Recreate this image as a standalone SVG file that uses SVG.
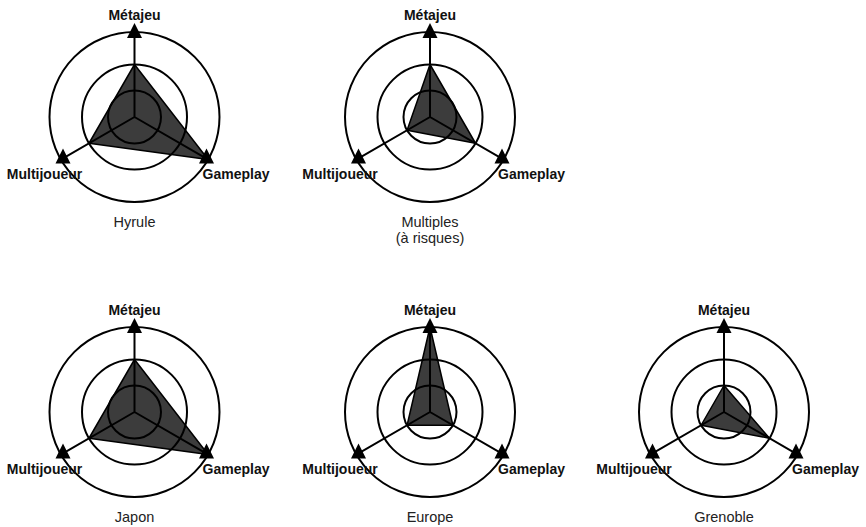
<svg xmlns="http://www.w3.org/2000/svg" xmlns:xlink="http://www.w3.org/1999/xlink" width="866" height="527" viewBox="0 0 866 527">
<style>
.ring{fill:none;stroke:#000;stroke-width:2}
.axis{stroke:#000;stroke-width:2;fill:none}
.head{fill:#000}
.poly{fill:#3c3c3c;stroke:#000;stroke-width:1.5;stroke-linejoin:round}
.ax{font-family:"Liberation Sans",Arial,sans-serif;font-size:14px;font-weight:bold;fill:#111;text-anchor:middle}
.name{font-family:"Liberation Sans",Arial,sans-serif;font-size:14.5px;fill:#222;text-anchor:middle}
</style>
<defs>
<g id="rings">
<circle class="ring" r="26.5"/>
<circle class="ring" r="52.5"/>
<circle class="ring" r="85"/>
</g>
<g id="axes">
<path class="axis" d="M0 0V-84M0 0L-71.5 41.3M0 0L72 41.6"/>
<path class="head" d="M0 -94L7.5 -79H-7.5Z"/>
<path class="head" d="M-71.5 31.5L-64 46.5H-79Z"/>
<path class="head" d="M72 31.5L79.5 46.5H64.5Z"/>
</g>
<g id="labels">
<text class="ax" x="0" y="-97">Métajeu</text>
<text class="ax" x="-90" y="62">Multijoueur</text>
<text class="ax" x="101.5" y="62">Gameplay</text>
</g>
</defs>
<g id="hyrule" transform="translate(134.5,117)">
<polygon class="poly" points="0,-52.5 73.6,42.5 -45.5,26.25"/>
<use xlink:href="#rings"/>
<g class="connectors"><use xlink:href="#axes"/></g>
<use xlink:href="#labels"/>
<text class="name" x="0" y="110">Hyrule</text>
</g>
<g id="multiples" transform="translate(430,117)">
<polygon class="poly" points="0,-52.5 45.5,26.25 -22.9,13.25"/>
<use xlink:href="#rings"/>
<g class="connectors"><use xlink:href="#axes"/></g>
<use xlink:href="#labels"/>
<text class="name" x="0" y="110">Multiples</text>
<text class="name" x="0" y="126">(à risques)</text>
</g>
<g id="japon" transform="translate(134.5,412)">
<polygon class="poly" points="0,-52.5 73.6,42.5 -45.5,26.25"/>
<use xlink:href="#rings"/>
<g class="connectors"><use xlink:href="#axes"/></g>
<use xlink:href="#labels"/>
<text class="name" x="0" y="110">Japon</text>
</g>
<g id="europe" transform="translate(430,412)">
<polygon class="poly" points="0,-85 22.9,13.25 -22.9,13.25"/>
<use xlink:href="#rings"/>
<g class="connectors"><use xlink:href="#axes"/></g>
<use xlink:href="#labels"/>
<text class="name" x="0" y="110">Europe</text>
</g>
<g id="grenoble" transform="translate(724,412)">
<polygon class="poly" points="0,-26.5 45.5,26.25 -22.9,13.25"/>
<use xlink:href="#rings"/>
<g class="connectors"><use xlink:href="#axes"/></g>
<use xlink:href="#labels"/>
<text class="name" x="0" y="110">Grenoble</text>
</g>
</svg>
